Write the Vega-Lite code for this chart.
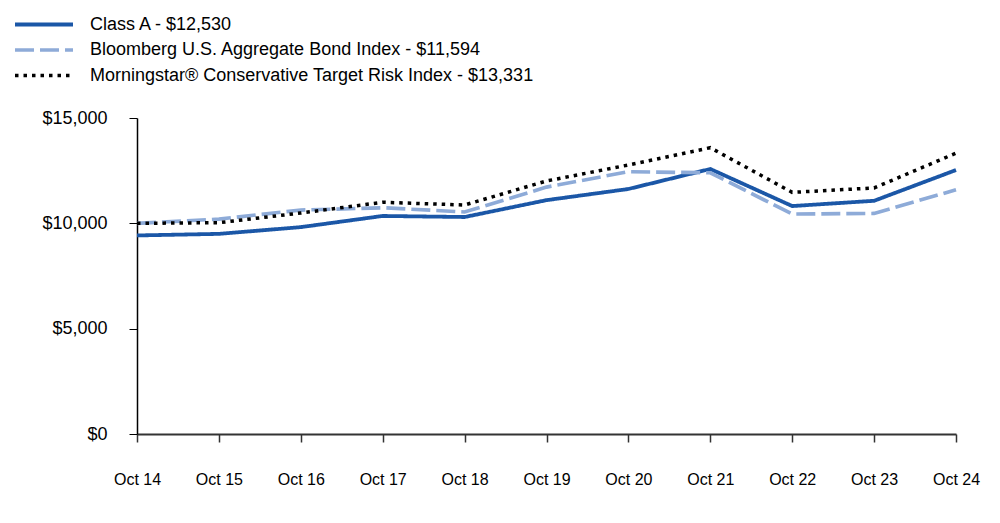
{
  "$schema": "https://vega.github.io/schema/vega-lite/v6.json",
  "width": 819,
  "height": 316,
  "autosize": "none",
  "padding": {"left": 137, "top": 118, "right": 44, "bottom": 89},
  "background": "white",
  "config": {"view": {"stroke": null}, "font": "Liberation Sans"},
  "data": {"values": [
    {"date": "Oct 14", "series": "Class A - $12,530", "value": 9425},
    {"date": "Oct 15", "series": "Class A - $12,530", "value": 9500},
    {"date": "Oct 16", "series": "Class A - $12,530", "value": 9820},
    {"date": "Oct 17", "series": "Class A - $12,530", "value": 10350},
    {"date": "Oct 18", "series": "Class A - $12,530", "value": 10300},
    {"date": "Oct 19", "series": "Class A - $12,530", "value": 11100},
    {"date": "Oct 20", "series": "Class A - $12,530", "value": 11630},
    {"date": "Oct 21", "series": "Class A - $12,530", "value": 12580},
    {"date": "Oct 22", "series": "Class A - $12,530", "value": 10820},
    {"date": "Oct 23", "series": "Class A - $12,530", "value": 11070},
    {"date": "Oct 24", "series": "Class A - $12,530", "value": 12530},
    {"date": "Oct 14", "series": "Bloomberg U.S. Aggregate Bond Index - $11,594", "value": 10000},
    {"date": "Oct 15", "series": "Bloomberg U.S. Aggregate Bond Index - $11,594", "value": 10200},
    {"date": "Oct 16", "series": "Bloomberg U.S. Aggregate Bond Index - $11,594", "value": 10630},
    {"date": "Oct 17", "series": "Bloomberg U.S. Aggregate Bond Index - $11,594", "value": 10740},
    {"date": "Oct 18", "series": "Bloomberg U.S. Aggregate Bond Index - $11,594", "value": 10540},
    {"date": "Oct 19", "series": "Bloomberg U.S. Aggregate Bond Index - $11,594", "value": 11720},
    {"date": "Oct 20", "series": "Bloomberg U.S. Aggregate Bond Index - $11,594", "value": 12450},
    {"date": "Oct 21", "series": "Bloomberg U.S. Aggregate Bond Index - $11,594", "value": 12400},
    {"date": "Oct 22", "series": "Bloomberg U.S. Aggregate Bond Index - $11,594", "value": 10440},
    {"date": "Oct 23", "series": "Bloomberg U.S. Aggregate Bond Index - $11,594", "value": 10470},
    {"date": "Oct 24", "series": "Bloomberg U.S. Aggregate Bond Index - $11,594", "value": 11594},
    {"date": "Oct 14", "series": "Morningstar® Conservative Target Risk Index - $13,331", "value": 10000},
    {"date": "Oct 15", "series": "Morningstar® Conservative Target Risk Index - $13,331", "value": 10030},
    {"date": "Oct 16", "series": "Morningstar® Conservative Target Risk Index - $13,331", "value": 10490},
    {"date": "Oct 17", "series": "Morningstar® Conservative Target Risk Index - $13,331", "value": 11000},
    {"date": "Oct 18", "series": "Morningstar® Conservative Target Risk Index - $13,331", "value": 10870},
    {"date": "Oct 19", "series": "Morningstar® Conservative Target Risk Index - $13,331", "value": 12010},
    {"date": "Oct 20", "series": "Morningstar® Conservative Target Risk Index - $13,331", "value": 12770},
    {"date": "Oct 21", "series": "Morningstar® Conservative Target Risk Index - $13,331", "value": 13590},
    {"date": "Oct 22", "series": "Morningstar® Conservative Target Risk Index - $13,331", "value": 11470},
    {"date": "Oct 23", "series": "Morningstar® Conservative Target Risk Index - $13,331", "value": 11680},
    {"date": "Oct 24", "series": "Morningstar® Conservative Target Risk Index - $13,331", "value": 13331}
  ]},
  "mark": {"type": "line", "strokeCap": "butt"},
  "encoding": {
    "x": {
      "field": "date", "type": "ordinal", "sort": null,
      "scale": {"type": "point", "padding": 0},
      "axis": {
        "title": null, "labelAngle": 0, "domainColor": "#333333", "domainWidth": 2,
        "tickColor": "#333333", "tickSize": 8, "tickWidth": 1.5,
        "labelPadding": 29, "labelFontSize": 16, "labelColor": "#000000",
        "labelFont": "Liberation Sans", "grid": false
      }
    },
    "y": {
      "field": "value", "type": "quantitative",
      "scale": {"domain": [0, 15000], "nice": false},
      "axis": {
        "title": null, "values": [0, 5000, 10000, 15000], "format": "$,.0f",
        "domainColor": "#000000", "domainWidth": 1.5, "tickColor": "#000000",
        "tickSize": 8, "labelPadding": 22, "labelFontSize": 18, "labelColor": "#000000",
        "labelFont": "Liberation Sans", "grid": false
      }
    },
    "color": {
      "field": "series", "type": "nominal",
      "scale": {
        "domain": ["Class A - $12,530", "Bloomberg U.S. Aggregate Bond Index - $11,594", "Morningstar® Conservative Target Risk Index - $13,331"],
        "range": ["#1b57a7", "#8eabd8", "#000000"]
      },
      "legend": {
        "orient": "none", "legendX": -124, "legendY": -106, "title": null,
        "symbolType": "stroke", "symbolSize": 3364, "symbolStrokeWidth": 3.5,
        "labelFontSize": 18, "labelColor": "#000000", "labelFont": "Liberation Sans",
        "clipHeight": 25, "rowPadding": 0.5, "labelOffset": 15, "symbolLimit": 0, "labelLimit": 0
      }
    },
    "strokeDash": {
      "field": "series", "type": "nominal",
      "scale": {
        "domain": ["Class A - $12,530", "Bloomberg U.S. Aggregate Bond Index - $11,594", "Morningstar® Conservative Target Risk Index - $13,331"],
        "range": [[1, 0], [19, 6], [3.5, 5]]
      },
      "legend": null
    },
    "strokeWidth": {
      "field": "series", "type": "nominal",
      "scale": {
        "domain": ["Class A - $12,530", "Bloomberg U.S. Aggregate Bond Index - $11,594", "Morningstar® Conservative Target Risk Index - $13,331"],
        "range": [3.8, 3.5, 1.5]
      },
      "legend": null
    }
  }
}
